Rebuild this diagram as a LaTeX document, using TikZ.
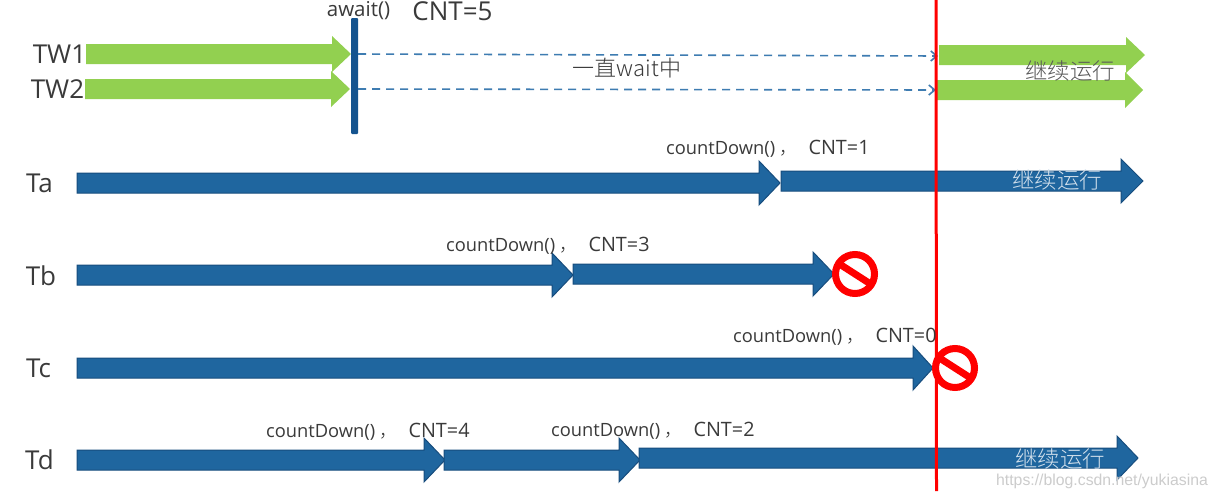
\documentclass[tikz,border=0pt]{standalone}
\usepackage{fontspec}
\setmainfont{Open Sans}
\newfontfamily\cjk{Noto Sans CJK SC Light}
\newfontfamily\wm{Liberation Sans}
\definecolor{gr}{HTML}{92D050}
\definecolor{bl}{HTML}{1F669F}
\definecolor{bld}{HTML}{174D7E}
\definecolor{dk}{HTML}{15548F}
\definecolor{dsh}{HTML}{3E7CB1}
\definecolor{tx}{HTML}{3A3A3A}
\usetikzlibrary{arrows.meta}
\tikzset{
  x=1pt,y=-1pt,
  grarrow/.style={fill=gr,draw=none},
  blarrow/.style={fill=bl,draw=bld,line width=1pt},
  lab/.style={text=tx,inner sep=0pt,anchor=center},
  cnt/.style={lab,font=\fontsize{18.3}{22}\selectfont},
  thr/.style={lab,font=\fontsize{26}{28}\selectfont},
  dsharrow/.style={draw=dsh,line width=1.6pt,dash pattern=on 8pt off 6pt,-{Straight Barb[length=6pt,width=10pt]}},
}
\newcommand{\cntlab}[1]{countDown()\,\hspace{1pt}{\cjk，}\hspace{11pt}{\fontsize{19.8}{22}\selectfont CNT=#1}}
% x0, x1, head start, y, half bar, half head, style
\newcommand{\harrow}[7]{\path[#7] (#1,#4-#5) -- (#3,#4-#5) -- (#3,#4-#6) -- (#2,#4) -- (#3,#4+#6) -- (#3,#4+#5) -- (#1,#4+#5) -- cycle;}
\newcommand{\stopsign}[3]{%
  \begin{scope}[shift={(#1,#2)}]
    \draw[red,line width=7pt] (0,0) circle (19.5pt);
    \draw[red,line width=7pt] (-14,-9) -- (14,9);
  \end{scope}\node[inner sep=0pt,minimum size=0pt] (#3) at (#1,#2) {};}
\begin{document}
\begin{tikzpicture}
\useasboundingbox (0,0) rectangle (1218,498);
\fill[white] (0,0) rectangle (1218,498);
% green arrows
\harrow{86}{351}{332}{54}{10}{18}{grarrow}
\harrow{85}{350}{331}{89}{10}{18}{grarrow}
\harrow{939}{1145}{1126}{55}{10}{18}{grarrow}
\harrow{937}{1143}{1125}{90}{10}{18}{grarrow}
% await bar
\fill[dk,rounded corners=1pt] (351,18) rectangle (358,134);
\coordinate (w1s) at (358,54); \coordinate (w1e) at (938,56);
\coordinate (w2s) at (358,89); \coordinate (w2e) at (936,90);
\draw[dsharrow] (w1s) -- (w1e);
\draw[dsharrow] (w2s) -- (w2e);
% blue arrows
\harrow{77}{780}{759}{183}{10}{22}{blarrow}
\harrow{781}{1143}{1121}{181}{10}{22}{blarrow}
\harrow{77}{573}{552}{275}{10}{22}{blarrow}
\harrow{573}{834}{813}{274}{10}{22}{blarrow}
\harrow{77}{933}{913}{368}{10}{22}{blarrow}
\harrow{77}{445}{424}{460}{10}{22}{blarrow}
\harrow{444}{640}{619}{460}{10}{22}{blarrow}
\harrow{639}{1138}{1117}{458}{10}{22}{blarrow}
% stop signs
\stopsign{855}{274}{stopb}
\stopsign{955}{368}{stopc}
% red line
\coordinate (rt) at (936,0); \coordinate (rb) at (936.5,491);
\draw[red,line width=3pt] (rt) -- (rb);
% labels
\node[thr] (tw1) at (59.5,54) {TW1};
\node[thr] (tw2) at (57.5,89) {TW2};
\node[thr] (ta) at (39.5,183) {Ta};
\node[thr] (tb) at (41,276) {Tb};
\node[thr] (tc) at (38.5,368) {Tc};
\node[thr] (td) at (39.5,460) {Td};
\node[lab,font=\fontsize{20.5}{24}\selectfont] (aw) at (358.5,11) {await()};
\node[thr] (c5) at (452.5,11) {CNT=5};
\node[lab,font=\fontsize{22}{24}\cjk] (wait) at (627,68) {一直wait中};
\node[cnt,anchor=west] (l1) at (666,148.5) {\cntlab{1}};
\node[cnt,anchor=west] (l3) at (446,245.5) {\cntlab{3}};
\node[cnt,anchor=west] (l0) at (733,336.5) {\cntlab{0}};
\node[cnt,anchor=west] (l4) at (266,431.5) {\cntlab{4}};
\node[cnt,anchor=west] (l2) at (551,430.5) {\cntlab{2}};
\node[lab,font=\fontsize{22.5}{24}\cjk,text=black!65] (r1) at (1070,71) {继续运行};
\node[lab,font=\fontsize{22.5}{24}\cjk,text=white!80!bl] (r2) at (1057,180) {继续运行};
\node[lab,font=\fontsize{22.5}{24}\cjk,text=white!80!bl] (r3) at (1060,459) {继续运行};
\node[lab,font=\fontsize{15.8}{19}\wm,text=black!20] (wmk) at (1102,481) {https://blog.csdn.net/yukiasina};
\end{tikzpicture}
\end{document}
